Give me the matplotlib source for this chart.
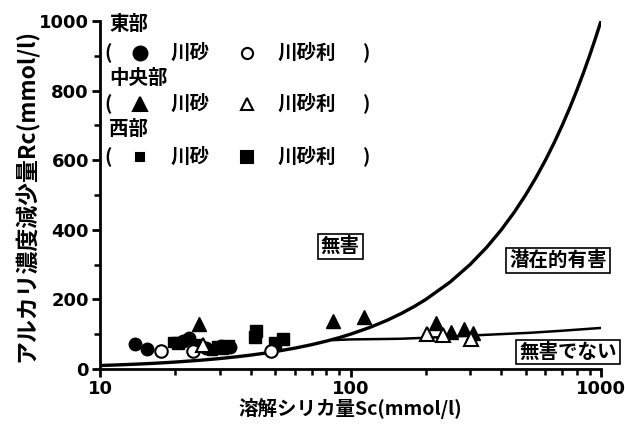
import matplotlib
matplotlib.use('Agg')
from matplotlib import pyplot as plt
from matplotlib.ticker import FixedLocator, NullFormatter

plt.rcParams['font.family'] = ['Noto Sans CJK JP', 'DejaVu Sans']

# 判定境界線 (Sc, Rc)
bound_sc = [10, 12, 14, 16, 18, 20, 25, 30, 35, 40, 45, 50, 60, 70, 80, 90, 100, 120, 140, 160,
            180, 200, 250, 300, 350, 400, 450, 500, 550, 600, 650, 700, 750, 800, 850, 900, 950, 1000]
bound_rc = [10, 12, 14, 16, 18, 20, 25, 30, 35, 40, 45, 50, 60, 70, 80, 90, 100, 120, 140, 160,
            180, 200, 250, 300, 350, 400, 450, 500, 550, 600, 650, 700, 750, 800, 850, 900, 950, 1000]
lower_sc = [85, 100, 130, 160, 220, 320, 420, 520, 700, 1000]
lower_rc = [83, 85, 86, 87, 91, 97, 101, 104, 110, 118]

# 東部
east_sand_sc = [13.8, 15.4, 21.5, 22.6, 26.5, 30.5, 33.0]
east_sand_rc = [72, 57, 80, 90, 60, 65, 62]
east_gravel_sc = [17.5, 23.6, 48.0]
east_gravel_rc = [52, 52, 52]
# 中央部
cent_sand_sc = [24.8, 85, 113, 219, 251, 284, 309]
cent_sand_rc = [128, 137, 148, 132, 105, 115, 103]
cent_gravel_sc = [25.7, 202, 233, 303]
cent_gravel_rc = [68, 102, 97, 85]
# 西部
west_sand_sc = [19.5, 28.0, 31.0, 24.5]
west_sand_rc = [78, 55, 58, 72]
west_gravel_sc = [20.5, 42.0, 41.5, 50.0, 54.0, 29.5, 32.5]
west_gravel_rc = [75, 108, 93, 75, 85, 62, 65]

fig = plt.figure(figsize=(6.25, 4.37), dpi=100)
ax = fig.add_axes([0.16, 0.1556, 0.8016, 0.7964])

ax.plot(bound_sc, bound_rc, color='black', lw=2.4, zorder=2)
ax.plot(lower_sc, lower_rc, color='black', lw=1.8, zorder=2)

ms = 9
ax.plot(east_sand_sc, east_sand_rc, 'o', color='black', ms=ms, zorder=3)
ax.plot(east_gravel_sc, east_gravel_rc, 'o', mfc='white', mec='black', mew=1.5, ms=ms, zorder=4)
ax.plot(cent_sand_sc, cent_sand_rc, '^', color='black', ms=ms + 1, zorder=3)
ax.plot(cent_gravel_sc, cent_gravel_rc, '^', mfc='white', mec='black', mew=1.5, ms=ms + 1, zorder=4)
ax.plot(west_sand_sc, west_sand_rc, 's', color='black', ms=ms - 2, zorder=3)
ax.plot(west_gravel_sc, west_gravel_rc, 's', color='black', ms=ms, zorder=3)

ax.set_xscale('log')
ax.set_xlim(10, 1000)
ax.set_ylim(0, 1000)

ax.spines['top'].set_visible(False)
ax.spines['right'].set_visible(False)
for s in ['left', 'bottom']:
    ax.spines[s].set_linewidth(2)

ax.set_xticks([10, 100, 1000])
ax.set_xticklabels(['10', '100', '1000'])
ax.xaxis.set_minor_locator(FixedLocator([d * k for d in (10, 100) for k in range(2, 10)]))
ax.xaxis.set_minor_formatter(NullFormatter())
ax.set_yticks(range(0, 1001, 200))
ax.yaxis.set_minor_locator(FixedLocator(range(100, 1000, 200)))
ax.tick_params(which='major', length=6, width=2, direction='out', pad=2)
ax.tick_params(which='minor', length=4, width=1.8, direction='out')
for lab in ax.get_xticklabels() + ax.get_yticklabels():
    lab.set_family('DejaVu Sans')
    lab.set_fontweight('bold')
    lab.set_fontsize(13)

ax.set_xlabel('溶解シリカ量Sc(mmol/l)', fontsize=14, fontweight='bold', labelpad=0)
ax.set_ylabel('アルカリ濃度減少量Rc(mmol/l)', fontsize=16.5, fontweight='bold', labelpad=0)

# 凡例
heads = [(0.991, '東部'), (0.836, '中央部'), (0.687, '西部')]
for y, t in heads:
    ax.text(0.018, y, t, transform=ax.transAxes, fontsize=14, fontweight='bold',
            va='center', ha='left')

rows = [
    (0.908, dict(marker='o', mfc='black', ms=10), dict(marker='o', mfc='white', ms=8)),
    (0.761, dict(marker='^', mfc='black', ms=10), dict(marker='^', mfc='white', ms=9)),
    (0.609, dict(marker='s', mfc='black', ms=6), dict(marker='s', mfc='black', ms=8)),
]
for y, k1, k2 in rows:
    kw = dict(transform=ax.transAxes, fontsize=14, fontweight='bold', va='center')
    ax.text(0.008, y, '(', ha='left', **kw)
    ax.text(0.14, y, '川砂', ha='left', **kw)
    ax.text(0.355, y, '川砂利', ha='left', **kw)
    ax.text(0.525, y, ')', ha='left', **kw)
    ax.plot([0.08], [y], transform=ax.transAxes, ls='none', mec='black', mew=1.5,
            clip_on=False, **k1)
    ax.plot([0.293], [y], transform=ax.transAxes, ls='none', mec='black', mew=1.5,
            clip_on=False, **k2)

box = dict(boxstyle='square,pad=0.15', fc='white', ec='black', lw=1.2)
ax.text(91, 353, '無害', fontsize=14, fontweight='bold', ha='center', va='center', bbox=box)
ax.text(673, 313, '潜在的有害', fontsize=14, fontweight='bold', ha='center', va='center', bbox=box)
ax.text(738, 49, '無害でない', fontsize=14, fontweight='bold', ha='center', va='center',
        bbox=box, clip_on=False)

fig.savefig('out.png', dpi=100)
